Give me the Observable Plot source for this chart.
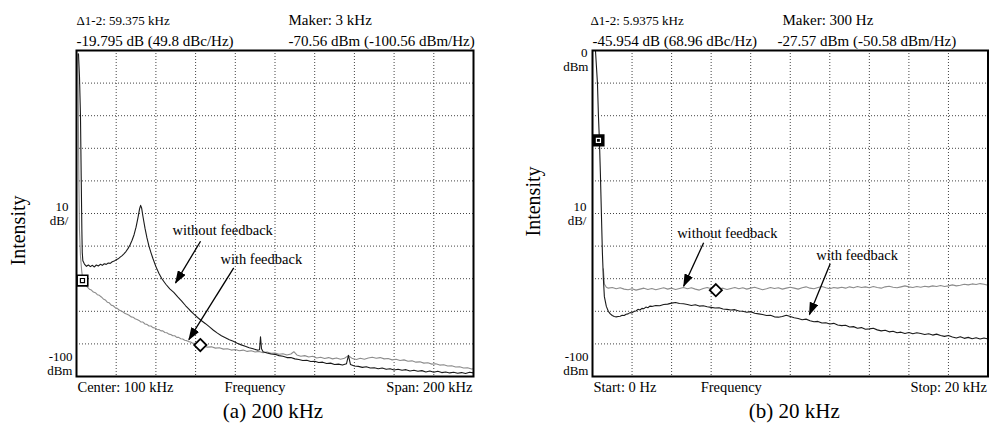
<!DOCTYPE html>
<html><head><meta charset="utf-8">
<script src="https://cdn.jsdelivr.net/npm/d3@7"></script>
<script src="https://cdn.jsdelivr.net/npm/@observablehq/plot@0.6"></script>
<style>
body{margin:0;background:#fff;}
#wrap{position:relative;width:989px;height:428px;overflow:hidden;}
#wrap svg{position:absolute;top:0;}
</style></head><body><div id="wrap"></div>
<script>
// ---------- shared ----------
const yGridLines = [-10,-20,-30,-40,-50,-60,-70,-80,-90];

// ---------- panel (a) 200 kHz ----------
const xGridA = [20,40,60,80,100,120,140,160,180];
const withoutFbA = [[1.0,-1],[1.5,-8],[2.0,-20],[2.4,-40],[2.7,-55],[2.9,-62],[3.2,-64.5],[4,-65.5],[5,-66.2],[6,-65.8],[7,-66.3],[8,-65.9],[9,-66.4],[10,-65.8],[11,-66.1],[12,-65.6],[13,-65.9],[14,-65.4],[15,-65.6],[16,-65.2],[17,-65.3],[18,-64.8],[19,-64.6],[20,-64.2],[21,-63.9],[22,-63.4],[23,-62.9],[24,-62.3],[25,-61.6],[26,-60.7],[27,-59.6],[28,-58.2],[29,-56.5],[30,-54.2],[31,-51.2],[31.8,-48.5],[32.3,-47.5],[32.8,-48.3],[33.5,-51],[34.5,-54.5],[35.5,-57.5],[36.5,-60],[37.5,-62],[38.5,-63.8],[40,-66.3],[41.5,-68.3],[43,-70.0],[45,-71.7],[47,-73.1],[49,-74.2],[51,-75.6],[53,-76.9],[55,-78.3],[57,-79.6],[59,-80.8],[61,-81.9],[63,-82.9],[65,-83.8],[67,-84.8],[69,-85.8],[71,-86.7],[73,-87.5],[75,-88.1],[77,-88.7],[79,-89.2],[81,-89.8],[83,-90.3],[85,-90.7],[87,-91.2],[89,-91.5],[91,-91.9],[92.2,-91.8],[92.7,-87.8],[93.2,-91.5],[94,-92.4],[96,-92.8],[98,-93.1],[100,-93.2],[102,-93.6],[104,-93.8],[106,-94.2],[108,-94.2],[110,-94.6],[112,-94.8],[114,-95.1],[116,-95.0],[118,-95.4],[120,-95.3],[122,-95.7],[124,-95.6],[126,-96.0],[128,-95.9],[130,-96.3],[132,-96.2],[134,-96.5],[136,-96.1],[137,-93.5],[138,-96.3],[140,-96.8],[142,-96.9],[144,-97.2],[146,-97.0],[148,-97.4],[150,-97.3],[152,-97.6],[154,-97.4],[156,-97.8],[158,-97.6],[160,-98.0],[162,-97.8],[164,-98.1],[166,-97.9],[168,-98.3],[170,-98.1],[172,-98.4],[174,-98.2],[176,-98.6],[178,-98.3],[180,-98.7],[182,-98.4],[184,-98.8],[186,-98.6],[188,-98.9],[190,-98.7],[192,-99.0],[194,-98.8],[196,-99.1],[198,-98.7],[200,-98.9]];
const withFbA = [[0.6,-1],[0.8,-10],[1.0,-25],[1.2,-40],[1.5,-55],[2.0,-63],[2.6,-67.5],[3.0,-69.5],[3.5,-70.8],[4.5,-71.8],[5.5,-72.6],[6.5,-73.2],[7.5,-73.5],[8.5,-74.1],[9.5,-74.3],[10.5,-74.9],[11.5,-75.1],[12.5,-75.6],[13.5,-76.2],[14.5,-76.5],[15.5,-77.2],[16.5,-77.4],[17.5,-78.1],[18.5,-78.3],[19.5,-78.9],[20.5,-79.1],[21.5,-79.6],[22.5,-79.9],[23.5,-80.2],[24.5,-80.7],[25.5,-80.9],[26.5,-81.2],[27.5,-81.7],[28.5,-81.8],[29.5,-82.3],[30.5,-82.5],[31.5,-82.8],[32.5,-83.3],[33.5,-83.3],[34.5,-83.9],[35.5,-84.0],[36.5,-84.5],[37.5,-84.5],[38.5,-85.0],[39.5,-85.1],[40.5,-85.5],[41.5,-85.6],[42.5,-86.0],[43.5,-86.0],[44.5,-86.5],[45.5,-86.6],[46.5,-87.0],[47.5,-87.1],[48.5,-87.5],[49.5,-87.5],[50.5,-88.0],[51.5,-88.0],[52.5,-88.4],[53.5,-88.5],[54.5,-88.9],[55.5,-89.0],[56.5,-89.3],[57.5,-89.4],[58.5,-89.8],[59.5,-89.8],[60.5,-90.2],[61.5,-90.2],[62.5,-90.5],[64,-90.6],[66,-91.0],[68,-90.9],[70,-91.3],[72,-91.2],[74,-91.6],[76,-91.5],[78,-91.9],[80,-91.7],[82,-92.1],[84,-91.9],[86,-92.3],[88,-92.1],[90,-92.5],[92,-92.3],[94,-92.7],[96,-92.5],[98,-92.9],[100,-92.8],[102,-93.2],[104,-93.0],[106,-93.4],[108,-93.1],[109.5,-92.4],[111,-93.4],[113,-93.8],[115,-93.6],[117,-94.0],[119,-93.8],[121,-94.3],[123,-94.1],[125,-94.5],[127,-94.2],[129,-94.6],[131,-94.3],[133,-94.7],[135,-94.4],[137,-93.6],[139,-94.5],[141,-94.8],[143,-94.4],[145,-94.7],[147,-94.3],[149,-94.1],[151,-94.4],[153,-94.2],[155,-94.6],[157,-94.5],[159,-94.9],[161,-94.7],[163,-95.1],[165,-94.9],[167,-95.3],[169,-95.2],[171,-95.6],[173,-95.5],[175,-95.9],[177,-95.8],[179,-96.2],[181,-96.1],[183,-96.5],[185,-96.4],[187,-96.8],[189,-96.7],[191,-97.1],[193,-97.0],[195,-97.4],[197,-97.3],[199,-97.7],[200,-97.6]];
const boxMarkerA = [[3, -70.56]];
const diamondMarkerA = [[62.375, -90.355]];
const notesA = [{x:48.4, y:-55.1, t:"without feedback"}, {x:72.5, y:-64.2, t:"with feedback"}];
const arrowsA = [{x1:62.5, y1:-58.5, x2:49.9, y2:-71.3}, {x1:79.2, y1:-66.7, x2:56.6, y2:-88.7}];
const headerA = ["Δ1-2: 59.375 kHz", "-19.795 dB (49.8 dBc/Hz)", "Maker: 3 kHz", "-70.56 dBm (-100.56 dBm/Hz)"];
const footerA = ["Center: 100 kHz", "Frequency", "Span: 200 kHz"];
const captionA = "(a) 200 kHz";

// ---------- panel (b) 20 kHz ----------
const xGridB = [2,4,6,8,10,12,14,16,18];
const withFbB = [[0.15,0],[0.2,-5],[0.25,-10],[0.3,-20],[0.35,-27.6],[0.4,-38],[0.45,-50],[0.5,-62],[0.55,-70],[0.6,-75.5],[0.7,-78.5],[0.8,-80],[0.9,-80.8],[1.0,-81.3],[1.1,-81.6],[1.2,-81.7],[1.3,-81.6],[1.4,-81.5],[1.5,-81.2],[1.6,-81.3],[1.7,-80.9],[1.8,-80.8],[1.9,-80.4],[2.0,-80.5],[2.1,-80.0],[2.2,-79.9],[2.3,-79.4],[2.4,-79.6],[2.5,-79.1],[2.6,-79.2],[2.7,-78.7],[2.8,-78.9],[2.9,-78.4],[3.0,-78.5],[3.2,-78.2],[3.4,-78.3],[3.6,-77.9],[3.8,-77.8],[4.0,-77.5],[4.2,-77.3],[4.4,-77.6],[4.6,-77.7],[4.8,-77.9],[5.0,-78.2],[5.2,-78.0],[5.4,-78.4],[5.6,-78.3],[5.8,-78.6],[6.0,-78.8],[6.2,-79.0],[6.4,-78.9],[6.6,-79.3],[6.8,-79.4],[7.0,-79.6],[7.2,-79.5],[7.4,-79.9],[7.6,-80.0],[7.8,-80.3],[8.0,-80.1],[8.2,-80.6],[8.4,-80.8],[8.6,-81.0],[8.8,-81.3],[9.0,-81.2],[9.2,-81.7],[9.4,-81.8],[9.6,-81.6],[9.8,-81.2],[10.0,-81.6],[10.2,-82.0],[10.4,-82.2],[10.6,-82.6],[10.8,-82.4],[11.0,-82.9],[11.2,-83.2],[11.4,-83.1],[11.6,-83.6],[11.8,-83.5],[12.0,-83.9],[12.2,-83.7],[12.4,-84.2],[12.6,-84.4],[12.8,-84.3],[13.0,-84.8],[13.2,-84.7],[13.4,-85.2],[13.6,-85.0],[13.8,-85.5],[14.0,-85.4],[14.2,-85.2],[14.4,-85.7],[14.6,-86.0],[14.8,-85.8],[15.0,-86.3],[15.2,-86.1],[15.4,-86.6],[15.6,-86.4],[15.8,-86.8],[16.0,-86.5],[16.2,-86.9],[16.4,-86.6],[16.6,-86.8],[16.8,-87.1],[17.0,-86.9],[17.2,-87.3],[17.4,-87.0],[17.6,-87.4],[17.8,-87.7],[18.0,-87.4],[18.2,-87.9],[18.4,-88.2],[18.6,-87.8],[18.8,-88.3],[19.0,-88.0],[19.2,-88.4],[19.4,-88.1],[19.6,-88.5],[19.8,-88.2],[20.0,-88.5]];
const withoutFbB = [[0.55,-67],[0.6,-71.6],[0.7,-72.6],[0.8,-72.9],[1.0,-72.7],[1.2,-73.1],[1.4,-72.8],[1.6,-73.2],[1.8,-73.4],[2.0,-73.1],[2.2,-73.5],[2.4,-73.2],[2.6,-72.9],[2.8,-73.3],[3.0,-73.0],[3.2,-73.4],[3.4,-73.1],[3.6,-72.8],[3.8,-73.2],[4.0,-72.9],[4.2,-73.3],[4.4,-73.0],[4.6,-72.7],[4.8,-73.1],[5.0,-72.8],[5.2,-73.2],[5.4,-73.5],[5.6,-73.0],[5.8,-72.7],[6.0,-73.1],[6.2,-73.5],[6.4,-73.2],[6.6,-72.9],[6.8,-73.3],[7.0,-73.0],[7.2,-72.7],[7.4,-73.1],[7.6,-72.8],[7.8,-73.2],[8.0,-72.9],[8.2,-72.6],[8.4,-73.0],[8.6,-73.4],[8.8,-73.1],[9.0,-72.7],[9.2,-73.0],[9.4,-72.8],[9.6,-73.2],[9.8,-72.9],[10.0,-72.6],[10.2,-72.9],[10.4,-73.2],[10.6,-72.8],[10.8,-72.5],[11.0,-72.9],[11.2,-73.1],[11.4,-72.7],[11.6,-72.4],[11.8,-72.8],[12.0,-73.1],[12.2,-72.7],[12.4,-72.9],[12.6,-72.6],[12.8,-72.9],[13.0,-72.5],[13.2,-72.8],[13.4,-72.4],[13.6,-72.7],[13.8,-72.5],[14.0,-72.8],[14.2,-72.4],[14.4,-72.7],[14.6,-72.9],[14.8,-72.5],[15.0,-72.3],[15.2,-72.6],[15.4,-72.8],[15.6,-72.5],[15.8,-72.2],[16.0,-72.5],[16.2,-72.7],[16.4,-72.4],[16.6,-72.6],[16.8,-72.3],[17.0,-72.5],[17.2,-72.2],[17.4,-72.4],[17.6,-72.1],[17.8,-72.4],[18.0,-72.2],[18.2,-71.9],[18.4,-72.2],[18.6,-72.0],[18.8,-71.7],[19.0,-71.9],[19.2,-71.6],[19.4,-71.8],[19.6,-71.5],[19.8,-71.7],[20.0,-72.0]];
const boxMarkerB = [[0.3, -27.57]];
const diamondMarkerB = [[6.2375, -73.524]];
const notesB = [{x:4.28, y:-56.2, t:"without feedback"}, {x:11.31, y:-62.9, t:"with feedback"}];
const arrowsB = [{x1:5.62, y1:-59, x2:4.61, y2:-72.3}, {x1:12.02, y1:-65.4, x2:10.97, y2:-81}];
const headerB = ["Δ1-2: 5.9375 kHz", "-45.954 dB (68.96 dBc/Hz)", "Maker: 300 Hz", "-27.57 dBm (-50.58 dBm/Hz)"];
const footerB = ["Start: 0 Hz", "Frequency", "Stop: 20 kHz"];
const captionB = "(b) 20 kHz";

const yAxisTitle = "Intensity";
const scaleLabel = ["10", "dB/"];
const bottomLabel = ["-100", "dBm"];
const topLabel = ["0", "dBm"];

// ---------- drawing ----------
const serif = '"Liberation Serif","Times New Roman",serif';
function txt(s, o) {
  return Plot.text([s], {text: d => d, fontFamily: serif, fill: "black", lineAnchor: "middle", ...o});
}
const X = d => d[0], Y = d => d[1];

function panel(cfg) {
  const x0 = cfg.xDomain[0];
  const side = (s, yv, dx, dy) => Plot.text([s], {x: () => x0, y: () => yv, text: d => d, textAnchor: "end", lineAnchor: "middle", dx, dy, fontFamily: serif, fontSize: 13, fill: "black"});
  const marks = [
    Plot.ruleX(cfg.xGrid, {stroke: "#444", strokeWidth: 1, strokeDasharray: "1,2"}),
    Plot.ruleY(yGridLines, {stroke: "#444", strokeWidth: 1, strokeDasharray: "1,2"}),
    Plot.line(cfg.gray, {x: X, y: Y, stroke: "#8c8c8c", strokeWidth: 1.1}),
    Plot.line(cfg.dark, {x: X, y: Y, stroke: "#1a1a1a", strokeWidth: 1.1}),
    Plot.frame({stroke: "black", strokeWidth: 2}),
    Plot.dot(cfg.box, {x: X, y: Y, symbol: "square", r: 6, fill: cfg.boxFill, stroke: "black", strokeWidth: 1.6}),
    Plot.dot(cfg.box, {x: X, y: Y, symbol: "square", r: 2.3, fill: "none", stroke: cfg.boxInner, strokeWidth: 1.2}),
    Plot.dot(cfg.diamond, {x: X, y: Y, symbol: "diamond2", r: 5.5, fill: "white", stroke: "black", strokeWidth: 1.8}),
    Plot.link(cfg.arrows, {x1: "x1", y1: "y1", x2: "x2", y2: "y2", stroke: "black", strokeWidth: 1.3}),
    Plot.text(cfg.notes, {x: "x", y: "y", text: "t", textAnchor: "start", fontFamily: serif, fontSize: 14.5, fill: "black"}),
    // header
    txt(cfg.header[0], {frameAnchor: "top-left", textAnchor: "start", dx: cfg.h0dx, dy: -30, fontSize: 13}),
    txt(cfg.header[1], {frameAnchor: "top-left", textAnchor: "start", dx: cfg.h1dx, dy: -9, fontSize: 15}),
    txt(cfg.header[2], {frameAnchor: "top-left", textAnchor: "start", dx: cfg.h2dx, dy: -30, fontSize: 15}),
    txt(cfg.header[3], {frameAnchor: "top-left", textAnchor: "start", dx: cfg.h3dx, dy: -9, fontSize: 15}),
    // footer
    txt(cfg.footer[0], {frameAnchor: "bottom-left", textAnchor: "start", dx: 1, dy: 11, fontSize: 14.5}),
    txt(cfg.footer[1], {frameAnchor: "bottom", textAnchor: "middle", dx: cfg.freqDx, dy: 11, fontSize: 14.5}),
    txt(cfg.footer[2], {frameAnchor: "bottom-right", textAnchor: "end", dx: -1, dy: 11, fontSize: 14.5}),
    txt(cfg.caption, {frameAnchor: "bottom", textAnchor: "middle", dx: cfg.capDx, dy: 35, fontSize: 21}),
    // y side labels
    txt(yAxisTitle, {frameAnchor: "left", textAnchor: "middle", dx: cfg.titleDx, dy: cfg.titleDy, rotate: -90, fontSize: 20}),
    side(scaleLabel[0], -50, cfg.scaleDx, -7),
    side(scaleLabel[1], -50, cfg.scaleDx, 7),
    side(bottomLabel[0], -100, -4, -20),
    side(bottomLabel[1], -100, -4, -6)
  ];
  if (cfg.showTop) {
    marks.push(side(topLabel[0], 0, -5, 2));
    marks.push(side(topLabel[1], 0, -4, 16));
  }
  const svg = Plot.plot({
    width: cfg.width, height: 428,
    marginLeft: cfg.marginLeft, marginRight: cfg.marginRight, marginTop: 50, marginBottom: 52,
    x: {domain: cfg.xDomain, axis: null},
    y: {domain: [-100, 0], axis: null},
    style: {fontFamily: serif, background: "transparent", overflow: "visible"},
    marks
  });
  // filled arrowheads
  const s = d3.select(svg);
  const defs = s.insert("defs", ":first-child");
  defs.append("marker").attr("id", cfg.id).attr("viewBox", "0 0 13 9")
    .attr("refX", 12).attr("refY", 4.5).attr("markerWidth", 13).attr("markerHeight", 9)
    .attr("markerUnits", "userSpaceOnUse").attr("orient", "auto")
    .append("path").attr("d", "M0,0L13,4.5L0,9Z").attr("fill", "black");
  s.selectAll('g[aria-label="link"] path').attr("marker-end", `url(#${cfg.id})`);
  svg.style.left = cfg.left + "px";
  return svg;
}

const wrap = document.getElementById("wrap");
wrap.appendChild(panel({
  id: "ahA", left: 0, width: 490, marginLeft: 76, marginRight: 17,
  xDomain: [0, 200], xGrid: xGridA,
  gray: withFbA, dark: withoutFbA, box: boxMarkerA, diamond: diamondMarkerA,
  boxFill: "white", boxInner: "black",
  notes: notesA, arrows: arrowsA, header: headerA, footer: footerA, caption: captionA,
  h0dx: 0, h1dx: 0, h2dx: 212, h3dx: 212, freqDx: -20, capDx: -2,
  titleDx: -58, titleDy: 17, scaleDx: -8, showTop: false
}));
wrap.appendChild(panel({
  id: "ahB", left: 490, width: 499, marginLeft: 102, marginRight: 1.5,
  xDomain: [0, 20], xGrid: xGridB,
  gray: withoutFbB, dark: withFbB, box: boxMarkerB, diamond: diamondMarkerB,
  boxFill: "black", boxInner: "white",
  notes: notesB, arrows: arrowsB, header: headerB, footer: footerB, caption: captionB,
  h0dx: -2, h1dx: 0, h2dx: 190, h3dx: 185, freqDx: -59, capDx: 4,
  titleDx: -59, titleDy: -12, scaleDx: -6, showTop: true
}));
</script></body></html>
